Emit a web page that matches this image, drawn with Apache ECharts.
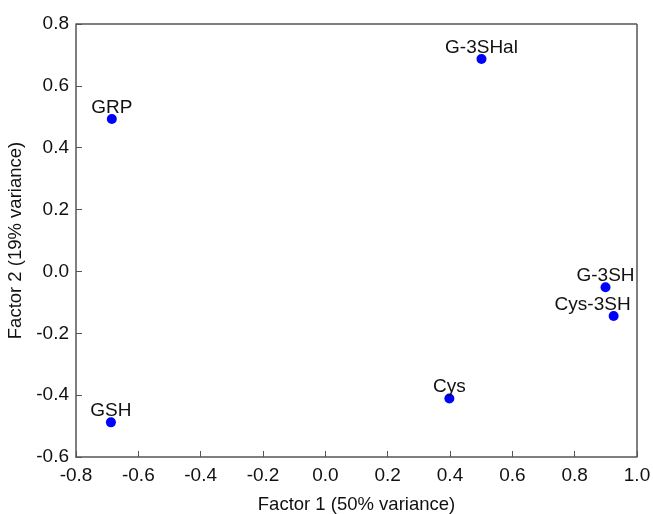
<!DOCTYPE html>
<html>
<head>
<meta charset="utf-8">
<script src="https://cdn.jsdelivr.net/npm/echarts@6/dist/echarts.min.js"></script>
<style>html,body{margin:0;padding:0;background:#fff;}#c{width:653px;height:514px;}</style>
</head>
<body>
<div id="c"></div>
<script>
const names = ['GRP', 'GSH', 'G-3SHal', 'Cys', 'G-3SH', 'Cys-3SH'];
const factor1 = [-0.685, -0.688, 0.501, 0.398, 0.899, 0.925];
const factor2 = [0.493, -0.488, 0.687, -0.411, -0.051, -0.144];
const labelShift = { 'Cys-3SH': [-21, 0] };

const font = 'Liberation Sans, Arial, sans-serif';
const axisCol = '#555';
const txt = '#111';
const data = names.map((n, i) => {
  const d = { name: n, value: [factor1[i], factor2[i]] };
  if (labelShift[n]) d.label = { offset: labelShift[n] };
  return d;
});

const chart = echarts.init(document.getElementById('c'));
chart.setOption({
  animation: false,
  backgroundColor: '#fff',
  grid: { left: 76, right: 16, top: 24, bottom: 57, containLabel: false, outerBoundsMode: 'none' },
  xAxis: {
    type: 'value', min: -0.8, max: 1.0, interval: 0.2,
    name: 'Factor 1 (50% variance)', nameLocation: 'middle', nameGap: 38,
    nameTextStyle: { fontFamily: font, fontSize: 18.5, color: txt },
    axisLine: { show: true, onZero: false, lineStyle: { color: axisCol, width: 1.5 } },
    axisTick: { show: true, inside: true, length: 6, lineStyle: { color: axisCol } },
    axisLabel: { fontFamily: font, fontSize: 19, color: txt, margin: 9,
      formatter: v => v.toFixed(1) },
    splitLine: { show: false }
  },
  yAxis: {
    type: 'value', min: -0.6, max: 0.8, interval: 0.2,
    name: 'Factor 2 (19% variance)', nameLocation: 'middle', nameGap: 46, nameRotate: 90,
    nameTextStyle: { fontFamily: font, fontSize: 18.5, color: txt },
    axisLine: { show: true, onZero: false, lineStyle: { color: axisCol, width: 1.5 } },
    axisTick: { show: true, inside: true, length: 6, lineStyle: { color: axisCol } },
    axisLabel: { fontFamily: font, fontSize: 19, color: txt, margin: 7,
      formatter: v => v.toFixed(1) },
    splitLine: { show: false }
  },
  series: [
    {
      type: 'scatter',
      symbolSize: 10,
      itemStyle: { color: '#0000ff', opacity: 1 },
      label: { show: true, position: 'top', distance: -3, formatter: '{b}',
        fontFamily: font, fontSize: 19, color: txt },
      data: data
    },
    {
      type: 'line', data: [], silent: true,
      markLine: { silent: true, symbol: 'none', label: { show: false },
        lineStyle: { color: axisCol, width: 1.5, type: 'solid' },
        data: [ [ { coord: [-0.8, 0.8] }, { coord: [1.0, 0.8] } ],
                [ { coord: [1.0, 0.8] }, { coord: [1.0, -0.6] } ] ] }
    }
  ]
});
</script>
</body>
</html>
